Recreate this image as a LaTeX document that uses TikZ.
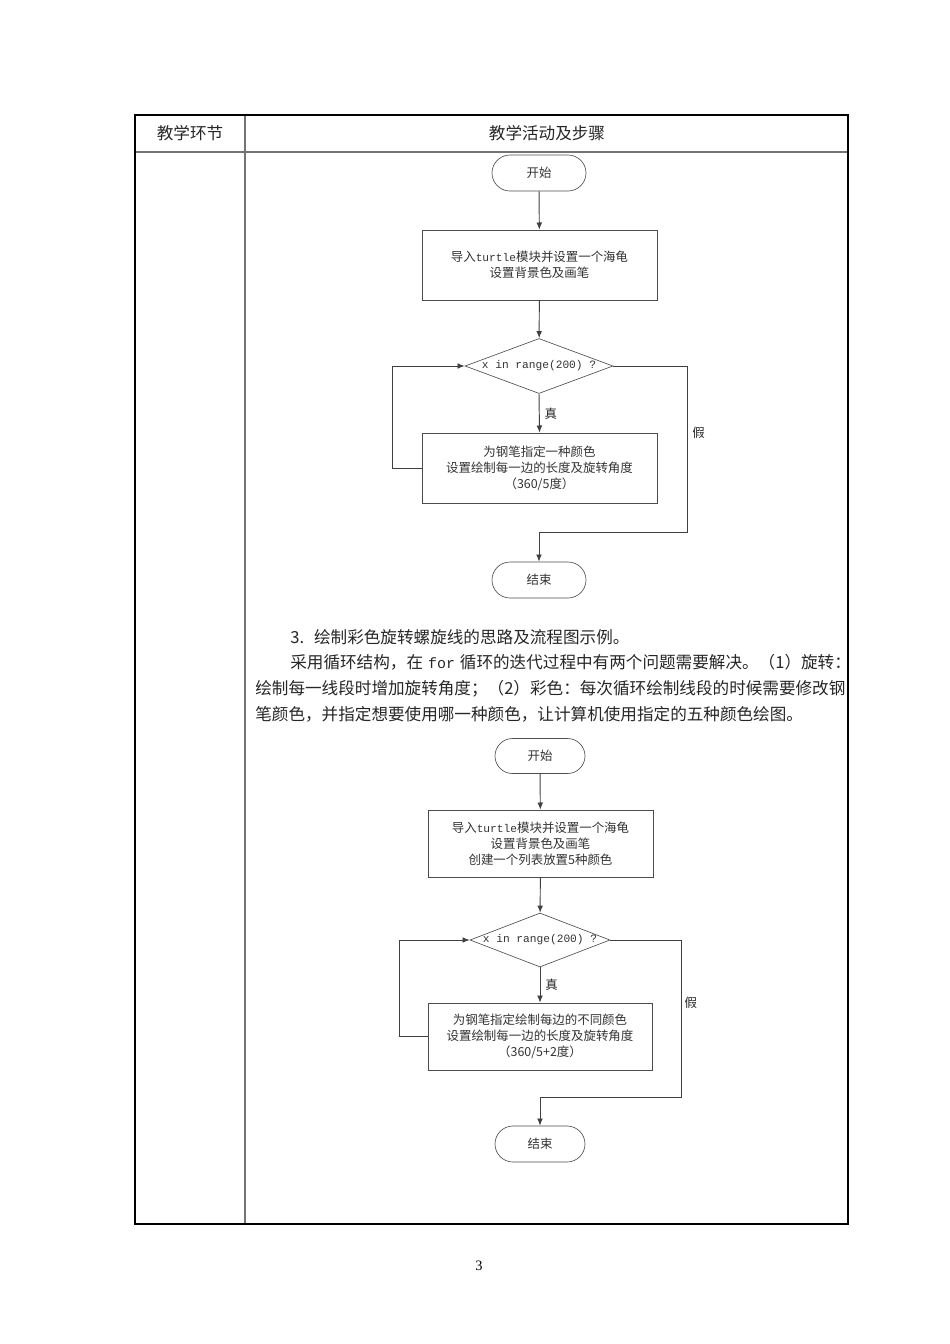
\documentclass[tikz,border=0pt]{standalone}
\usepackage{fontspec}
\setmainfont{Noto Sans CJK SC}
\newfontfamily\flowtt[Scale=0.9]{Liberation Mono}
\newfontfamily\pagefont{Liberation Serif}
\usetikzlibrary{arrows.meta}
\usetikzlibrary{shapes.geometric, shapes.misc}
\newcommand{\pxu}{0.6266pt}
\tikzset{
        flownode/.style={align=center, inner sep=0pt, text=black!80, font=\fontsize{7.8}{10}\selectfont},
        % Start and end nodes
        node_terminal/.style={flownode, rounded rectangle, draw=black!70, minimum width=94*\pxu, minimum height=36*\pxu},
        % Process boxes
        node_process/.style={flownode, rectangle, draw=black!70, minimum width=235*\pxu, minimum height=70*\pxu},
        % Decision nodes
        node_decision/.style={flownode, diamond, draw=black!70, minimum width=148*\pxu, minimum height=55*\pxu},
        % Branch labels
        node_branch/.style={flownode, text=black!85},
        % Flow connectors
        flowline/.style={black!75, line width=0.6pt},
        % Table and page text
        table_outer/.style={black, line width=1.3pt},
        table_inner/.style={black!55, line width=0.8pt},
        cell_text/.style={inner sep=0pt, text=black!85, font=\fontsize{10.4}{13}\selectfont},
        para_text/.style={cell_text, anchor=west}
}
\begin{document}
\begin{tikzpicture}[
            x=\pxu, y=-\pxu,
            ->, >={Latex[length=4.5pt, width=3.6pt]}
        ]
            \useasboundingbox (0,0) rectangle (950,1344);
            % table frame
            \draw[-, table_inner] (135,152) -- (848,152);
            \draw[-, table_inner] (245,115) -- (245,1224);
            \draw[-, table_outer] (135,115) rectangle (848,1224);
            \node[cell_text] (head_stage) at (190,133) {教学环节};
            \node[cell_text] (head_steps) at (547,133) {教学活动及步骤};

            % first flowchart
            \node[node_terminal] (start_a) at (539,173) {开始};
            \node[node_process] (init_a) at (539.5,265) {导入{\flowtt turtle}模块并设置一个海龟\\设置背景色及画笔};
            \node[node_decision, label={[flownode]center:{\flowtt x in range(200) ?}}] (loop_a) at (539,366) {};
            \node[node_process] (draw_a) at (539.5,468) {为钢笔指定一种颜色\\设置绘制每一边的长度及旋转角度\\（360/5度）};
            \node[node_terminal] (end_a) at (539,580) {结束};
            \coordinate (back_a) at (392,366);
            \coordinate (exit_a) at (687,532);

            \draw[flowline] (start_a) -- (init_a);
            \draw[flowline] (init_a) -- (loop_a);
            \draw[flowline] (loop_a.south) -- node[node_branch, right=3pt] {真} (draw_a.north);
            \draw[flowline] (draw_a.west) -| (back_a) -- (loop_a.west);
            \draw[flowline] (loop_a.east) -| node[node_branch, pos=0.7, right=3pt] {假} (exit_a) -| (end_a.north);

            % text between the charts
            \node[para_text] (para_a) at (290,637) {3.\hspace{0.6em}绘制彩色旋转螺旋线的思路及流程图示例。};
            \node[para_text] (para_b) at (290,662) {采用循环结构，在\hspace{0.3em}{\flowtt for}\hspace{0.3em}循环的迭代过程中有两个问题需要解决。（1）旋转：};
            \node[para_text] (para_c) at (255,689) {绘制每一线段时增加旋转角度；（2）彩色：每次循环绘制线段的时候需要修改钢};
            \node[para_text] (para_d) at (255,714) {笔颜色，并指定想要使用哪一种颜色，让计算机使用指定的五种颜色绘图。};

            % second flowchart
            \node[node_terminal, minimum width=90*\pxu, minimum height=35*\pxu] (start_b) at (540,756) {开始};
            \node[node_process, minimum width=225*\pxu, minimum height=67*\pxu] (init_b) at (540.5,843.5) {导入{\flowtt turtle}模块并设置一个海龟\\设置背景色及画笔\\创建一个列表放置5种颜色};
            \node[node_decision, minimum width=140*\pxu, minimum height=54*\pxu, label={[flownode]center:{\flowtt x in range(200) ?}}] (loop_b) at (540,940) {};
            \node[node_process, minimum width=224*\pxu, minimum height=67*\pxu] (draw_b) at (540,1036.5) {为钢笔指定绘制每边的不同颜色\\设置绘制每一边的长度及旋转角度\\（360/5+2度）};
            \node[node_terminal, minimum width=90*\pxu] (end_b) at (540,1144) {结束};
            \coordinate (back_b) at (399,940);
            \coordinate (exit_b) at (681,1097);

            \draw[flowline] (start_b) -- (init_b);
            \draw[flowline] (init_b) -- (loop_b);
            \draw[flowline] (loop_b.south) -- node[node_branch, right=3pt] {真} (draw_b.north);
            \draw[flowline] (draw_b.west) -| (back_b) -- (loop_b.west);
            \draw[flowline] (loop_b.east) -| node[node_branch, pos=0.7, right=2pt] {假} (exit_b) -| (end_b.north);

            % page number
            \node[inner sep=0pt, font=\pagefont\fontsize{9}{11}\selectfont] (page_no) at (479,1266) {3};
        \end{tikzpicture}
\end{document}
